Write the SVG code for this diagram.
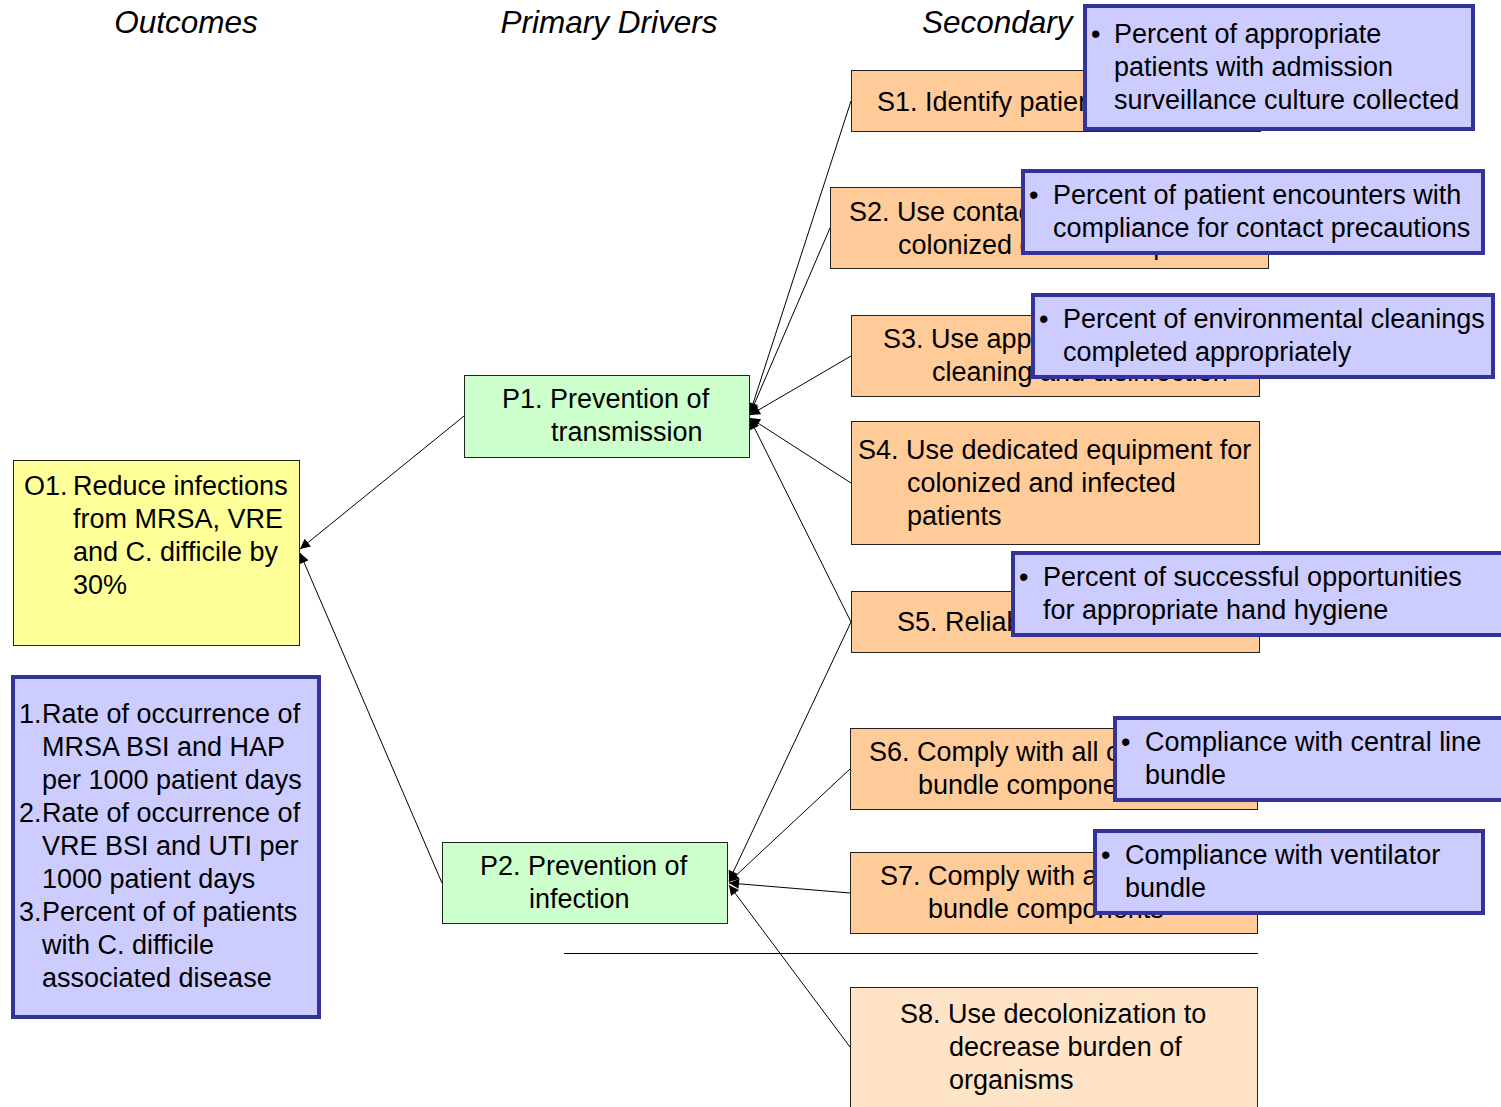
<svg xmlns="http://www.w3.org/2000/svg" width="1501" height="1107" viewBox="0 0 1501 1107">
<style>
text { font-family: "Liberation Sans", Arial, sans-serif; font-size: 27px; fill: #000; }
.title { font-size: 31.5px; font-style: italic; }
.box { stroke: #222; stroke-width: 1; }
.out { fill: #FFFF99; }
.prim { fill: #CCFFCC; }
.sec { fill: #FFCC99; }
.sec8 { fill: #FFE3C6; }
.meas { fill: #CCCCFF; stroke: #333399; stroke-width: 4; }
.conn line { stroke: #000; stroke-width: 1; }
</style>
<defs>
<marker id="ah" viewBox="0 0 10 10" refX="10" refY="5" markerWidth="12" markerHeight="10" orient="auto-start-reverse" markerUnits="userSpaceOnUse">
<path d="M0,0 L10,5 L0,10 z" fill="#000"/>
</marker>
</defs>
<rect width="1501" height="1107" fill="#fff"/>

<g id="titles">
<text class="title" x="186" y="33" text-anchor="middle">Outcomes</text>
<text class="title" x="609" y="33" text-anchor="middle">Primary Drivers</text>
<text class="title" x="922" y="33">Secondary</text>
</g>

<g id="connectors" class="conn">
<line x1="300" y1="549" x2="464" y2="416" marker-start="url(#ah)"/>
<line x1="300" y1="553" x2="442" y2="883" marker-start="url(#ah)"/>
<line x1="750" y1="413" x2="851" y2="101" marker-start="url(#ah)"/>
<line x1="750" y1="414" x2="830" y2="228" marker-start="url(#ah)"/>
<line x1="750" y1="415" x2="851" y2="356" marker-start="url(#ah)"/>
<line x1="750" y1="418" x2="851" y2="483" marker-start="url(#ah)"/>
<line x1="750" y1="419" x2="851" y2="622" marker-start="url(#ah)"/>
<line x1="729" y1="881" x2="851" y2="622" marker-start="url(#ah)"/>
<line x1="729" y1="882" x2="850" y2="769" marker-start="url(#ah)"/>
<line x1="729" y1="883" x2="850" y2="893" marker-start="url(#ah)"/>
<line x1="729" y1="885" x2="850" y2="1047" marker-start="url(#ah)"/>
<line x1="564" y1="953.5" x2="1258" y2="953.5"/>
</g>

<g id="O1">
<rect class="box out" x="13.5" y="460.5" width="286" height="185"/>
<text x="24" y="495">O1.</text>
<text x="73" y="495">Reduce infections</text>
<text x="73" y="528">from MRSA, VRE</text>
<text x="73" y="561">and C. difficile by</text>
<text x="73" y="594">30%</text>
</g>

<g id="M0">
<rect class="meas" x="13" y="677" width="306" height="340"/>
<text x="19" y="723">1.</text>
<text x="42" y="723">Rate of occurrence of</text>
<text x="42" y="756">MRSA BSI and HAP</text>
<text x="42" y="789">per 1000 patient days</text>
<text x="19" y="822">2.</text>
<text x="42" y="822">Rate of occurrence of</text>
<text x="42" y="855">VRE BSI and UTI per</text>
<text x="42" y="888">1000 patient days</text>
<text x="19" y="921">3.</text>
<text x="42" y="921">Percent of of patients</text>
<text x="42" y="954">with C. difficile</text>
<text x="42" y="987">associated disease</text>
</g>

<g id="P1">
<rect class="box prim" x="464.5" y="375.5" width="285" height="82"/>
<text x="502" y="408">P1. Prevention of</text>
<text x="551" y="441">transmission</text>
</g>

<g id="P2">
<rect class="box prim" x="442.5" y="842.5" width="285" height="81"/>
<text x="480" y="875">P2. Prevention of</text>
<text x="529" y="908">infection</text>
</g>

<g id="S1">
<rect class="box sec" x="851.5" y="70.5" width="409" height="61"/>
<text x="877" y="111">S1. Identify patients colonized or infected</text>
</g>
<g id="S2">
<rect class="box sec" x="830.5" y="187.5" width="438" height="81"/>
<text x="849" y="221">S2. Use contact precautions for</text>
<text x="898" y="254">colonized or infected patients</text>
</g>
<g id="S3">
<rect class="box sec" x="851.5" y="315.5" width="408" height="81"/>
<text x="883" y="348">S3. Use appropriate environmental</text>
<text x="932" y="381">cleaning and disinfection</text>
</g>
<g id="S4">
<rect class="box sec" x="851.5" y="421.5" width="408" height="123"/>
<text x="858" y="459">S4. Use dedicated equipment for</text>
<text x="907" y="492">colonized and infected</text>
<text x="907" y="525">patients</text>
</g>
<g id="S5">
<rect class="box sec" x="851.5" y="591.5" width="408" height="61"/>
<text x="897" y="631">S5. Reliable hand hygiene</text>
</g>
<g id="S6">
<rect class="box sec" x="850.5" y="728.5" width="407" height="81"/>
<text x="869" y="761">S6. Comply with all central line</text>
<text x="918" y="794">bundle components</text>
</g>
<g id="S7">
<rect class="box sec" x="850.5" y="852.5" width="407" height="81"/>
<text x="880" y="885">S7. Comply with all ventilator</text>
<text x="928" y="918">bundle components</text>
</g>
<g id="S8">
<rect class="box sec8" x="850.5" y="987.5" width="407" height="125"/>
<text x="900" y="1023">S8. Use decolonization to</text>
<text x="949" y="1056">decrease burden of</text>
<text x="949" y="1089">organisms</text>
</g>

<g id="M1">
<rect class="meas" x="1085" y="6" width="388" height="123"/>
<text x="1091" y="43">•</text>
<text x="1114" y="43">Percent of appropriate</text>
<text x="1114" y="76">patients with admission</text>
<text x="1114" y="109">surveillance culture collected</text>
</g>
<g id="M2">
<rect class="meas" x="1023" y="171" width="460" height="82"/>
<text x="1029" y="204">•</text>
<text x="1053" y="204">Percent of patient encounters with</text>
<text x="1053" y="237">compliance for contact precautions</text>
</g>
<g id="M3">
<rect class="meas" x="1033" y="295" width="460" height="82"/>
<text x="1039" y="328">•</text>
<text x="1063" y="328">Percent of environmental cleanings</text>
<text x="1063" y="361">completed appropriately</text>
</g>
<g id="M4">
<rect class="meas" x="1013" y="553" width="494" height="82"/>
<text x="1019" y="586">•</text>
<text x="1043" y="586">Percent of successful opportunities</text>
<text x="1043" y="619">for appropriate hand hygiene</text>
</g>
<g id="M5">
<rect class="meas" x="1115" y="718" width="392" height="82"/>
<text x="1121" y="751">•</text>
<text x="1145" y="751">Compliance with central line</text>
<text x="1145" y="784">bundle</text>
</g>
<g id="M6">
<rect class="meas" x="1095" y="831" width="388" height="82"/>
<text x="1101" y="864">•</text>
<text x="1125" y="864">Compliance with ventilator</text>
<text x="1125" y="897">bundle</text>
</g>
</svg>
